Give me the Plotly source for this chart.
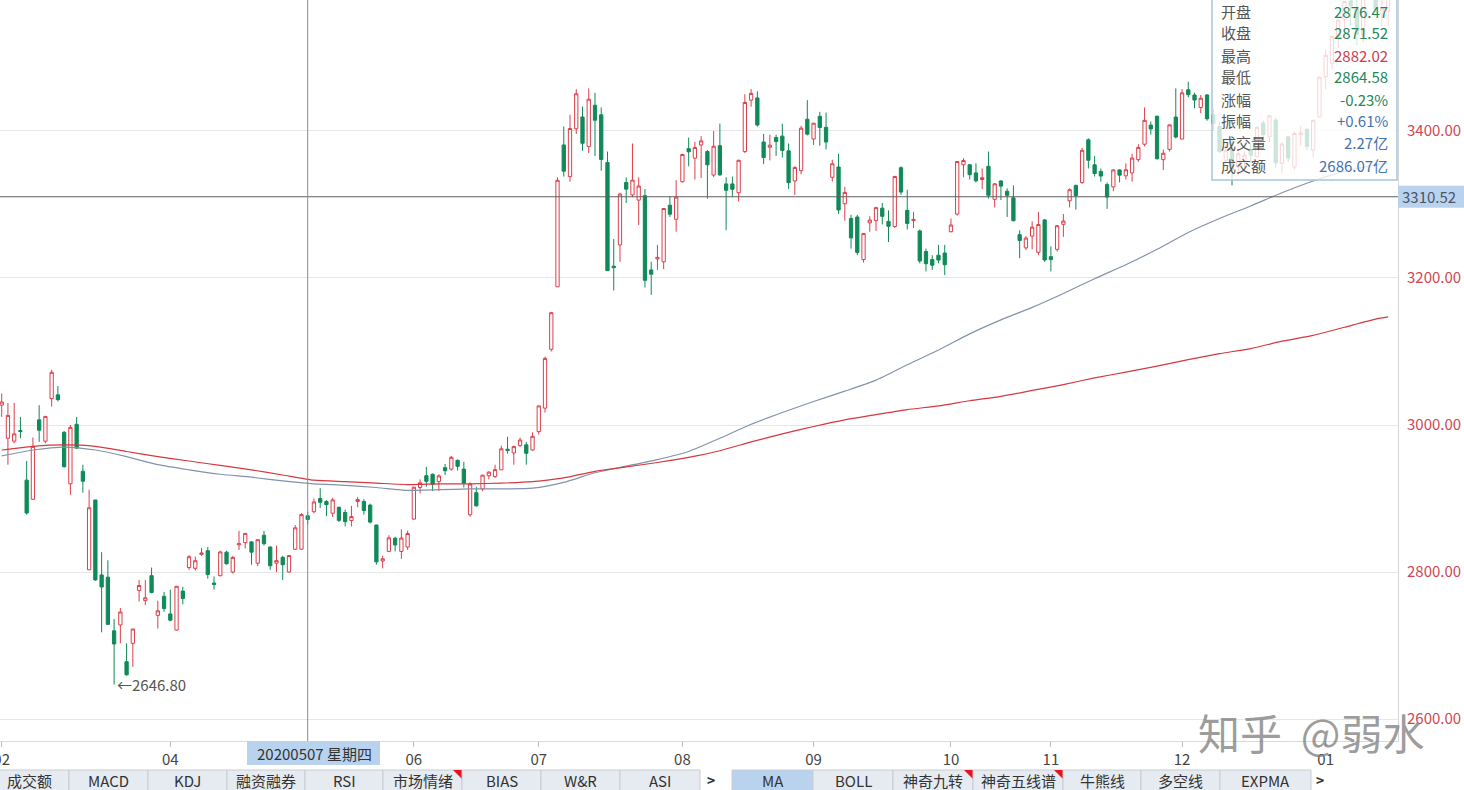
import pandas as pd
import plotly.graph_objects as go

# ---------------- data ----------------
holidays = ["2020-04-06", "2020-05-01", "2020-05-04", "2020-05-05", "2020-06-25", "2020-06-26",
            "2020-10-01", "2020-10-02", "2020-10-05", "2020-10-06", "2020-10-07", "2020-10-08",
            "2021-01-01"]
dates = [d.strftime("%Y-%m-%d") for d in pd.bdate_range("2020-02-24", "2021-01-18")
         if d.strftime("%Y-%m-%d") not in holidays]

opens = [
    3027, 2982, 2978, 2992.5, 2925,
    2899, 3007, 2978, 3036, 3041, 2990, 2920, 3001, 2937, 2803, 2898, 2796, 2793, 2720, 2728, 2678, 2703, 2775, 2761, 2795, 2741, 2767,
    2743, 2721, 2774, 2806, 2805, 2824, 2829, 2785, 2795, 2827, 2800, 2837, 2840, 2841, 2812, 2850, 2834, 2812, 2820, 2800, 2831,
    2831, 2876.47, 2882, 2900, 2896, 2880, 2888, 2881, 2870, 2896, 2896, 2891, 2864, 2815, 2828, 2846, 2828, 2834,
    2872, 2915, 2931, 2933, 2923, 2942, 2940, 2952, 2940, 2878, 2908, 2913, 2931, 2930, 2939, 2967, 2962, 2972, 2973, 2966,
    2991, 3023, 3103, 3188, 3381, 3338, 3403, 3419, 3379, 3435, 3422, 3357, 3216, 3245, 3330, 3313, 3306, 3312, 3211, 3226, 3222, 3299, 3280,
    3331, 3376, 3363, 3381, 3372, 3340, 3380, 3328, 3328, 3316, 3372, 3442, 3445, 3385, 3378, 3391, 3393, 3373, 3332, 3346, 3416,
    3389, 3420, 3405, 3337, 3351, 3301, 3281, 3283, 3225, 3275, 3278, 3295, 3277, 3270, 3350, 3292, 3278, 3264, 3236, 3225, 3231, 3234,
    3263, 3287, 3354, 3354, 3343, 3334, 3352, 3307, 3332, 3318, 3309, 3259, 3241, 3257, 3235, 3279,
    3229, 3239, 3273, 3305, 3326, 3330, 3388, 3354, 3345, 3327, 3324, 3347, 3339, 3343, 3361, 3382, 3408, 3420, 3361, 3375, 3419,
    3389, 3456, 3449, 3432, 3449, 3422, 3406, 3360, 3376, 3351, 3360, 3374, 3365, 3411, 3392, 3415, 3356, 3392, 3351, 3395, 3402, 3374, 3419,
    3474, 3492, 3530, 3552, 3577, 3566, 3531, 3609, 3597, 3563, 3563,
]
highs = [
    3043, 3030, 3030, 3011, 2951,
    2983, 3027, 3012, 3075, 3053, 2992, 3000, 3011, 2946, 2912, 2898, 2827, 2816, 2736, 2751, 2703, 2723, 2789, 2789, 2806, 2761, 2773,
    2776, 2781, 2780, 2823, 2821, 2833, 2834, 2794, 2829, 2829, 2822, 2856, 2853, 2842, 2844, 2856, 2835, 2836, 2822, 2823, 2864,
    2880, 2882.02, 2900, 2914, 2898, 2901, 2889, 2885, 2890, 2902, 2899, 2893, 2864, 2822, 2850, 2848, 2858, 2856,
    2916, 2926, 2943, 2934, 2933, 2947, 2958, 2953, 2950, 2922, 2916, 2932, 2937, 2946, 2972, 2984, 2972, 2983, 2977, 2990,
    3026, 3093, 3154, 3337, 3406, 3422, 3457, 3433, 3458, 3452, 3432, 3372, 3253, 3316, 3337, 3383, 3337, 3321, 3222, 3245, 3295, 3311, 3333,
    3369, 3391, 3385, 3393, 3374, 3400, 3410, 3337, 3338, 3361, 3450, 3457, 3454, 3396, 3395, 3395, 3410, 3383, 3352, 3407, 3442,
    3411, 3426, 3425, 3361, 3369, 3324, 3286, 3286, 3261, 3284, 3297, 3302, 3292, 3339, 3352, 3320, 3290, 3266, 3240, 3231, 3245, 3245,
    3281, 3359, 3363, 3355, 3356, 3349, 3372, 3329, 3333, 3322, 3326, 3265, 3257, 3277, 3290, 3280,
    3243, 3272, 3287, 3322, 3327, 3377, 3390, 3366, 3349, 3330, 3348, 3348, 3356, 3369, 3382, 3432, 3413, 3421, 3375, 3409, 3458,
    3457, 3467, 3452, 3449, 3450, 3430, 3412, 3381, 3392, 3372, 3372, 3383, 3406, 3414, 3422, 3418, 3385, 3393, 3399, 3407, 3404, 3415, 3474,
    3511, 3529, 3551, 3577, 3599, 3600, 3609, 3619, 3611, 3580, 3597,
]
lows = [
    3011, 2946, 2975, 2982, 2878,
    2898, 2977, 2975, 3025, 3032, 2942, 2905, 2968, 2908, 2803, 2788, 2718, 2728, 2646.8, 2703, 2659, 2671, 2760, 2755, 2771, 2723, 2746,
    2733, 2720, 2756, 2803, 2802, 2822, 2791, 2776, 2794, 2810, 2798, 2830, 2832, 2810, 2808, 2836, 2803, 2800, 2789, 2799, 2830,
    2830, 2864.58, 2880, 2887, 2876, 2875, 2868, 2862, 2862, 2888, 2878, 2866, 2810, 2805, 2827, 2828, 2818, 2830,
    2871, 2907, 2916, 2910, 2910, 2932, 2938, 2938, 2915, 2875, 2889, 2910, 2926, 2928, 2939, 2961, 2946, 2970, 2946, 2965,
    2987, 3017, 3100, 3188, 3338, 3331, 3396, 3373, 3370, 3366, 3346, 3210, 3183, 3222, 3302, 3310, 3272, 3187, 3177, 3211, 3212, 3283, 3263,
    3330, 3352, 3334, 3336, 3308, 3337, 3339, 3265, 3310, 3304, 3370, 3433, 3406, 3355, 3360, 3366, 3364, 3321, 3313, 3341, 3394,
    3381, 3380, 3375, 3331, 3287, 3278, 3240, 3231, 3221, 3263, 3264, 3273, 3249, 3268, 3313, 3266, 3268, 3220, 3209, 3211, 3220, 3204,
    3262, 3285, 3337, 3334, 3330, 3321, 3308, 3296, 3306, 3283, 3277, 3227, 3238, 3239, 3231, 3222,
    3209, 3236, 3256, 3296, 3293, 3328, 3349, 3338, 3331, 3294, 3318, 3330, 3334, 3331, 3358, 3379, 3395, 3361, 3347, 3372, 3390,
    3389, 3446, 3431, 3424, 3414, 3400, 3370, 3356, 3326, 3340, 3350, 3356, 3365, 3386, 3385, 3350, 3343, 3358, 3347, 3380, 3374, 3364, 3419,
    3457, 3484, 3513, 3526, 3544, 3517, 3520, 3581, 3562, 3543, 3543,
]
closes = [
    3031.2, 3013.0, 2987.9, 2991.3, 2880.3,
    2970.9, 2992.9, 3011.7, 3071.7, 3034.5, 2943.3, 2996.8, 2968.5, 2923.5, 2887.4, 2789.3, 2779.6, 2728.8, 2702.1, 2745.6, 2660.2, 2722.4, 2781.6, 2764.9, 2772.2, 2747.2, 2750.3,
    2734.5, 2780.6, 2764.0, 2820.8, 2815.4, 2825.9, 2796.6, 2783.1, 2827.3, 2811.2, 2819.9, 2838.5, 2852.5, 2827.0, 2844.0, 2838.5, 2808.5, 2815.5, 2810.0, 2822.4, 2860.1,
    2878.1, 2871.52, 2895.3, 2894.8, 2891.6, 2898.1, 2870.3, 2868.5, 2875.4, 2898.6, 2883.7, 2867.9, 2813.8, 2818.0, 2846.5, 2836.8, 2846.2, 2852.4,
    2915.4, 2921.4, 2923.4, 2919.3, 2930.8, 2937.8, 2956.1, 2943.8, 2920.9, 2919.7, 2890.0, 2931.8, 2935.9, 2939.3, 2967.6, 2965.3, 2970.6, 2979.6, 2961.5, 2984.7,
    3026.0, 3090.6, 3152.8, 3332.9, 3345.3, 3403.4, 3450.6, 3383.3, 3443.3, 3414.6, 3361.3, 3210.1, 3214.1, 3314.2, 3320.9, 3333.2, 3325.1, 3196.8, 3205.2, 3228.0, 3294.5, 3286.8, 3310.0,
    3368.0, 3371.7, 3377.6, 3386.5, 3354.0, 3379.3, 3340.3, 3319.3, 3320.7, 3360.1, 3438.8, 3451.1, 3408.1, 3363.9, 3380.7, 3385.6, 3373.6, 3329.7, 3350.4, 3403.8, 3395.7,
    3410.6, 3404.8, 3385.0, 3355.4, 3292.6, 3316.4, 3254.6, 3234.8, 3260.4, 3278.8, 3295.7, 3283.9, 3270.4, 3338.1, 3316.9, 3274.3, 3279.7, 3223.2, 3219.4, 3217.5, 3224.4, 3218.1,
    3272.1, 3358.5, 3359.8, 3340.6, 3332.2, 3336.4, 3312.5, 3328.1, 3325.0, 3312.5, 3278.0, 3251.1, 3254.3, 3269.2, 3272.7, 3224.5,
    3225.1, 3271.1, 3277.4, 3320.1, 3312.2, 3373.7, 3360.2, 3342.2, 3338.7, 3310.1, 3347.0, 3339.9, 3347.3, 3363.1, 3377.7, 3414.5, 3402.8, 3362.3, 3369.7, 3408.3, 3391.8,
    3451.9, 3449.4, 3442.1, 3444.6, 3416.6, 3410.2, 3372.0, 3373.3, 3347.2, 3369.1, 3367.2, 3367.0, 3404.9, 3394.9, 3420.6, 3356.8, 3382.3, 3363.1, 3396.6, 3397.3, 3379.0, 3414.5, 3473.1,
    3503.0, 3528.7, 3550.9, 3576.2, 3570.1, 3531.5, 3608.3, 3598.7, 3565.9, 3566.4, 3596.2,
]

ma_dates = ["2020-02-24", "2020-03-02", "2020-03-09", "2020-03-16", "2020-03-23", "2020-03-30",
            "2020-04-07", "2020-04-14", "2020-04-21", "2020-04-28", "2020-05-08", "2020-05-15",
            "2020-05-22", "2020-05-29", "2020-06-05", "2020-06-12", "2020-06-19", "2020-06-30",
            "2020-07-07", "2020-07-14", "2020-07-21", "2020-07-28", "2020-08-04", "2020-08-11",
            "2020-08-18", "2020-08-25", "2020-09-01", "2020-09-08", "2020-09-15", "2020-09-22",
            "2020-09-29", "2020-10-14", "2020-10-21", "2020-10-28", "2020-11-04", "2020-11-11",
            "2020-11-18", "2020-11-25", "2020-12-02", "2020-12-09", "2020-12-16", "2020-12-23",
            "2020-12-30", "2021-01-07", "2021-01-14", "2021-01-18"]
ma120 = [2958, 2966, 2970, 2966, 2957, 2946, 2939, 2933, 2929, 2924, 2920, 2918,
         2915, 2911, 2912, 2913, 2913, 2914, 2922, 2935, 2944, 2953, 2964, 2982,
         3001, 3017, 3032, 3046, 3061, 3082, 3102, 3124, 3143, 3160, 3179, 3199,
         3218, 3239, 3262, 3281, 3298, 3316, 3332, 3345, 3354, 3357]
ma250 = [2966, 2971, 2973, 2971, 2964, 2957, 2951, 2945, 2939, 2932, 2925, 2923,
         2921, 2919, 2920, 2920, 2921, 2923, 2928, 2937, 2943, 2949, 2956, 2965,
         2977, 2988, 2998, 3007, 3014, 3021, 3026, 3033, 3039, 3047, 3055, 3064,
         3072, 3080, 3089, 3097, 3104, 3114, 3122, 3133, 3144, 3147]

month_ticks = ["2020-02-24", "2020-04-01", "2020-06-01", "2020-07-01", "2020-08-03",
               "2020-09-01", "2020-10-09", "2020-11-02", "2020-12-01", "2021-01-04"]
month_labels = ["02", "04", "06", "07", "08", "09", "10", "11", "12", "01"]
y_ticks = [2600, 2800, 3000, 3200, 3400]

cross_date = "2020-05-07"
cross_price = 3310.52
low_date = "2020-03-19"
low_price = 2646.80

info_labels = ["开盘", "收盘", "最高", "最低", "涨幅", "振幅", "成交量", "成交额"]
info_values = ["2876.47", "2871.52", "2882.02", "2864.58", "-0.23%", "+0.61%", "2.27亿", "2686.07亿"]

tabs_left = ["成交额", "MACD", "KDJ", "融资融券", "RSI", "市场情绪", "BIAS", "W&R", "ASI"]
tabs_right = ["MA", "BOLL", "神奇九转", "神奇五线谱", "牛熊线", "多空线", "EXPMA"]

# ---------------- styling / layout helpers ----------------
W, H = 1464, 790
ML, MR, MT, MB = 0, 66, 0, 49
PW, PH = W - ML - MR, H - MT - MB
YR = [2570.1, 3578.2]
XR = [-0.27, 223.58]

UP = "#dc3f4b"
DOWN = "#0f8a58"
FONT = "Noto Sans CJK SC, Noto Sans, sans-serif"
FS = 15


def px(x):
    return (x - ML) / PW


def py(y):
    return 1 - (y - MT) / PH


def ypx(v):
    return MT + (YR[1] - v) / (YR[1] - YR[0]) * PH


fig = go.Figure()
fig.add_trace(go.Candlestick(
    x=dates, open=opens, high=highs, low=lows, close=closes,
    increasing=dict(line=dict(color=UP, width=1), fillcolor="white"),
    decreasing=dict(line=dict(color=DOWN, width=1), fillcolor=DOWN),
    whiskerwidth=0, hoverinfo="skip", showlegend=False,
))
fig.add_trace(go.Scatter(x=ma_dates, y=ma120, mode="lines", line_shape="spline",
                         line=dict(color="#8393aa", width=1.2, smoothing=0.6),
                         hoverinfo="skip", showlegend=False))
fig.add_trace(go.Scatter(x=ma_dates, y=ma250, mode="lines", line_shape="spline",
                         line=dict(color="#d5383f", width=1.2, smoothing=0.6),
                         hoverinfo="skip", showlegend=False))

shapes = []
annotations = []

# crosshair
ci = dates.index(cross_date)
shapes.append(dict(type="line", xref="paper", yref="y", x0=0, x1=1, y0=cross_price, y1=cross_price,
                   line=dict(color="#5f5f5f", width=1)))
shapes.append(dict(type="line", xref="x", yref="paper", x0=ci, x1=ci, y0=0, y1=1,
                   line=dict(color="#8c8c8c", width=1)))

# price label on right axis
yc = ypx(cross_price)
shapes.append(dict(type="rect", xref="paper", yref="paper", x0=px(1398), x1=px(1464),
                   y0=py(yc + 11), y1=py(yc - 11), fillcolor="#b9d3ef", line=dict(width=0)))
annotations.append(dict(xref="paper", yref="y", x=px(1400), y=cross_price, xanchor="left",
                        yanchor="middle", text=f"{cross_price:.2f}", showarrow=False,
                        font=dict(family=FONT, size=FS, color="#4a5566")))

# date label on x axis
shapes.append(dict(type="rect", xref="paper", yref="paper", x0=px(247), x1=px(380),
                   y0=py(765), y1=py(741), fillcolor="#b9d3ef", line=dict(width=0)))
annotations.append(dict(xref="paper", yref="paper", x=px(314), y=py(753), xanchor="center",
                        yanchor="middle", text="20200507 星期四", showarrow=False,
                        font=dict(family=FONT, size=FS, color="#333333")))

# low marker
annotations.append(dict(xref="x", yref="y", x=dates.index(low_date), y=low_price, xanchor="left",
                        yanchor="middle", xshift=1, text=f"←{low_price:.2f}", showarrow=False,
                        font=dict(family=FONT, size=FS, color="#555555")))

# info box
shapes.append(dict(type="rect", xref="paper", yref="paper", x0=px(1212), x1=px(1397),
                   y0=py(180), y1=py(-6), fillcolor="rgba(255,255,255,0.78)",
                   line=dict(color="#a9c3da", width=1.5)))
row_y = [11, 33, 55, 77, 99, 121, 143, 165]
val_colors = ["#24875a", "#24875a", "#c9404c", "#24875a", "#24875a", "#4473b1", "#4473b1", "#4473b1"]
for lab, val, yy, col in zip(info_labels, info_values, row_y, val_colors):
    annotations.append(dict(xref="paper", yref="paper", x=px(1219), y=py(yy), xanchor="left",
                            yanchor="middle", text=lab, showarrow=False,
                            font=dict(family=FONT, size=FS, color="#555555")))
    annotations.append(dict(xref="paper", yref="paper", x=px(1390), y=py(yy), xanchor="right",
                            yanchor="middle", text=val, showarrow=False,
                            font=dict(family=FONT, size=FS, color=col)))

# bottom tab bar
TAB_TOP, TAB_BOT = 770, 791
left_edges = [-11, 69, 148, 227, 305, 383, 462, 541, 620, 700]
right_edges = [732, 813, 893, 973, 1063, 1141, 1220, 1311]
flag_tabs = {"市场情绪", "神奇九转", "神奇五线谱"}
for names, edges in ((tabs_left, left_edges), (tabs_right, right_edges)):
    for i, name in enumerate(names):
        x0, x1 = edges[i], edges[i + 1]
        fill = "#b9d3ef" if name == "MA" else "#e6ebf1"
        shapes.append(dict(type="rect", xref="paper", yref="paper", x0=px(x0), x1=px(x1),
                           y0=py(TAB_BOT), y1=py(TAB_TOP), fillcolor=fill,
                           line=dict(color="#c7ccd4", width=1)))
        annotations.append(dict(xref="paper", yref="paper", x=px((x0 + x1) / 2), y=py(780.5),
                                xanchor="center", yanchor="middle", text=name, showarrow=False,
                                font=dict(family=FONT, size=FS, color="#333333")))
        if name in flag_tabs:
            shapes.append(dict(type="path", xref="paper", yref="paper",
                               path=f"M {px(x1 - 9)},{py(TAB_TOP)} L {px(x1)},{py(TAB_TOP)} L {px(x1)},{py(TAB_TOP + 9)} Z",
                               fillcolor="#e8121d", line=dict(width=0)))
for ax in (711, 1320):
    annotations.append(dict(xref="paper", yref="paper", x=px(ax), y=py(780), xanchor="center",
                            yanchor="middle", text="<b>></b>", showarrow=False,
                            font=dict(family=FONT, size=14, color="#333333")))

# watermark
annotations.append(dict(xref="paper", yref="paper", x=px(1311), y=py(731), xanchor="center",
                        yanchor="middle", text="知乎  @弱水", showarrow=False,
                        font=dict(family=FONT, size=42, color="rgba(120,120,120,0.72)")))

fig.update_layout(
    width=W, height=H,
    margin=dict(l=ML, r=MR, t=MT, b=MB, pad=0, autoexpand=False),
    paper_bgcolor="white", plot_bgcolor="white",
    showlegend=False, hovermode=False, boxgap=0.25,
    font=dict(family=FONT, size=FS, color="#333333"),
    xaxis=dict(type="category", range=XR, rangeslider=dict(visible=False), automargin=False,
               tickmode="array", tickvals=month_ticks, ticktext=month_labels,
               ticks="outside", ticklen=5, tickcolor="#bdbdbd", tickwidth=1,
               showgrid=False, showline=True, linecolor="#dadada", linewidth=1,
               tickfont=dict(family=FONT, size=FS, color="#444444"), fixedrange=True),
    yaxis=dict(side="right", range=YR, tickmode="array", tickvals=y_ticks, tickformat=".2f",
               showgrid=True, gridcolor="#e6e6e6", gridwidth=1, zeroline=False, automargin=False,
               showline=True, linecolor="#d6d6d6", linewidth=1, ticks="",
               ticklabelstandoff=5,
               tickfont=dict(family=FONT, size=FS, color="#cf4753"), fixedrange=True),
    shapes=shapes, annotations=annotations,
)

fig.write_html("out.html")
